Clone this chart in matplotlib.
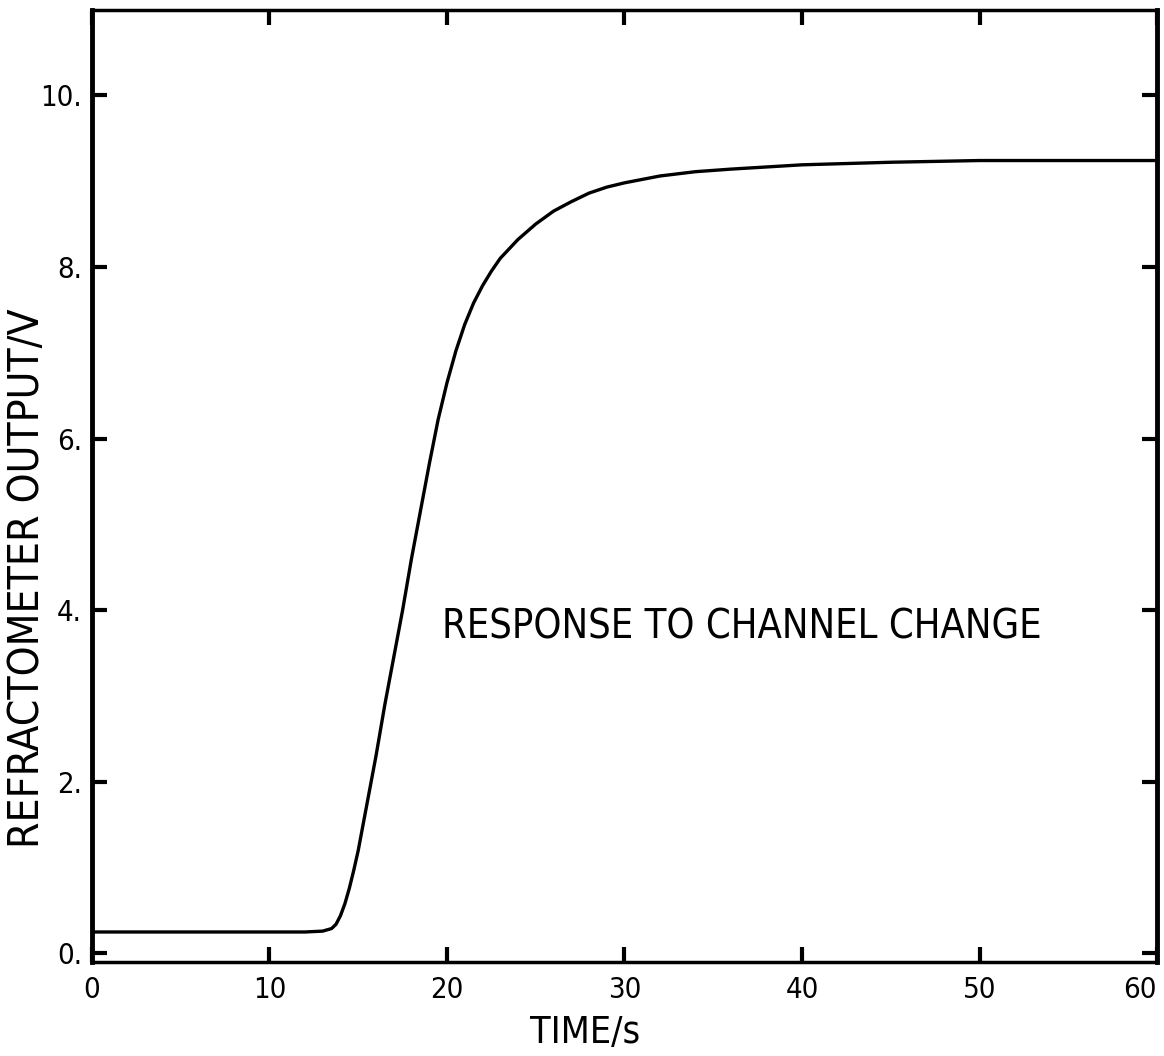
import matplotlib
matplotlib.use("Agg")
import matplotlib.pyplot as plt

plt.rcParams['font.family'] = ['DejaVu Sans']
plt.rcParams['font.stretch'] = 'condensed'

# Refractometer trace
time_s = [0, 5, 10, 12, 13, 13.5, 13.75, 14, 14.25, 14.5, 14.75, 15, 15.5, 16, 16.5,
          17, 17.5, 18, 18.5, 19, 19.5, 20, 20.5, 21, 21.5, 22, 22.5, 23, 24, 25,
          26, 27, 28, 29, 30, 32, 34, 36, 40, 45, 50, 55, 60]
output_v = [0.25, 0.25, 0.25, 0.25, 0.26, 0.29, 0.34, 0.44, 0.58, 0.76, 0.97, 1.2,
            1.75, 2.3, 2.9, 3.45, 4.0, 4.6, 5.15, 5.7, 6.22, 6.65, 7.02, 7.33, 7.58,
            7.78, 7.95, 8.1, 8.32, 8.5, 8.65, 8.76, 8.86, 8.93, 8.98, 9.06, 9.11,
            9.14, 9.19, 9.22, 9.24, 9.24, 9.24]

x_ticks = [0, 10, 20, 30, 40, 50, 60]
y_ticks = [0, 2, 4, 6, 8, 10]
y_tick_labels = ['0.', '2.', '4.', '6.', '8.', '10.']

fig = plt.figure(figsize=(11.64, 10.56), dpi=100)
ax = fig.add_axes([0.079, 0.089, 0.915, 0.902])

ax.plot(time_s, output_v, color='black', lw=2.4, solid_capstyle='round',
        solid_joinstyle='round')

ax.set_xlim(0, 60)
ax.set_ylim(-0.1, 11)
ax.set_xticks(x_ticks)
ax.set_xticklabels([str(t) for t in x_ticks])
ax.set_yticks(y_ticks)
ax.set_yticklabels(y_tick_labels)

ax.tick_params(direction='in', length=11, width=3, top=True, right=True,
               labelsize=21, pad=10)
ax.tick_params(axis='y', pad=7)
for side in ax.spines.values():
    side.set_linewidth(2.5)
ax.spines['left'].set_linewidth(3.5)
ax.spines['right'].set_linewidth(3.5)
# last label sits left of its tick in the reference
ax.get_xticklabels()[-1].set_horizontalalignment('right')

ax.text(19.7, 3.8, 'RESPONSE TO CHANNEL CHANGE', fontsize=28.5,
        ha='left', va='center')

ax.text(0.463, -0.075, 'TIME/s', transform=ax.transAxes, fontsize=27,
        ha='center', va='center')
ax.text(-0.061, 0.403, 'REFRACTOMETER OUTPUT/V', transform=ax.transAxes,
        fontsize=30.5, ha='center', va='center', rotation=90)

fig.savefig('out.png', dpi=100)
